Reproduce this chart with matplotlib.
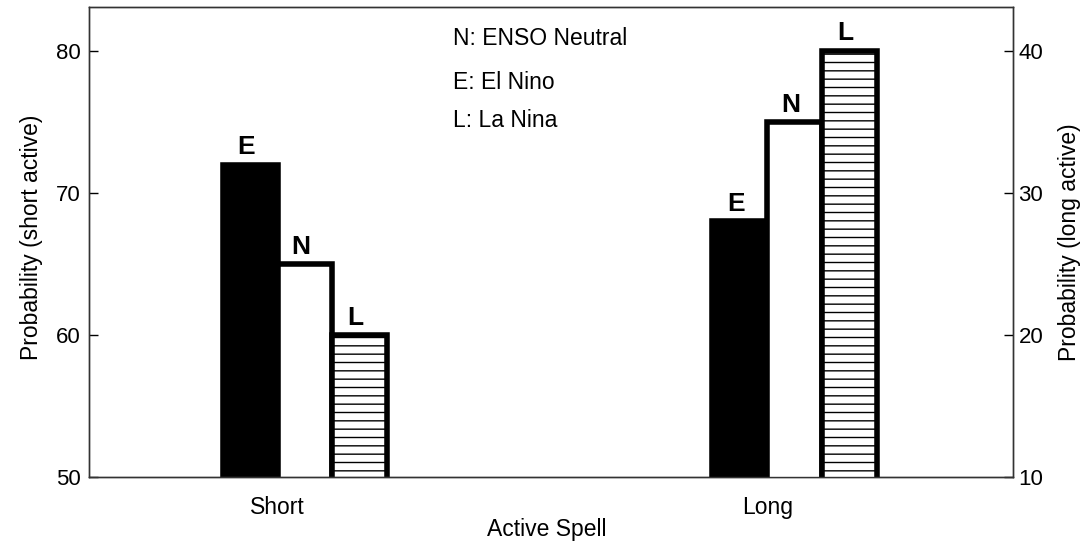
import numpy as np
import matplotlib
matplotlib.use("Agg")
import matplotlib.pyplot as plt

plt.rcParams['font.family'] = ['Liberation Sans', 'DejaVu Sans']
plt.rcParams['hatch.linewidth'] = 1.0

# data
spells = ['Short', 'Long']
phases = ['E', 'N', 'L']
short_prob = [72, 65, 60]   # left axis (short active)
long_prob = [28, 35, 40]    # right axis (long active)
legend_lines = ['N: ENSO Neutral', 'E: El Nino', 'L: La Nina']

# bar styling per phase
face = {'E': 'black', 'N': 'white', 'L': 'white'}
hatch = {'E': None, 'N': None, 'L': '--'}

w = 0.112
offsets = {'E': -0.5 * w, 'N': 0.5 * w, 'L': 1.5 * w}
pos = np.arange(1, len(spells) + 1)

fig = plt.figure(figsize=(10.9, 5.41), dpi=100)
ax = fig.add_axes([0.0817, 0.1183, 0.8477, 0.8690])
ax2 = ax.twinx()

for axis, xc, vals in [(ax, pos[0], short_prob), (ax2, pos[1], long_prob)]:
    for ph, v in zip(phases, vals):
        xb = xc + offsets[ph]
        axis.bar(xb, v, width=w, color=face[ph], edgecolor='black',
                 linewidth=4, hatch=hatch[ph])
        axis.annotate(ph, (xb, v), xytext=(-3, 7.5), textcoords='offset points',
                      ha='center', va='baseline', fontsize=19, fontweight='bold')

ax.set_xlim(0.615, 2.502)
ax.set_ylim(50, 83.1)
ax2.set_ylim(10, 43.1)

ax.set_yticks([50, 60, 70, 80])
ax2.set_yticks([10, 20, 30, 40])
ax.set_xticks(pos)
ax.set_xticklabels(spells)

ax.tick_params(axis='y', direction='in', length=6.5, width=1, labelsize=16, pad=6)
ax.tick_params(axis='x', length=0, labelsize=16.5, pad=14)
ax2.tick_params(axis='y', direction='in', length=6.5, width=1, labelsize=16, pad=4)

for a in (ax, ax2):
    for s in a.spines.values():
        s.set_linewidth(1.0)
        s.set_color('#333333')

ax.set_xlabel('Active Spell', fontsize=16.5)
ax.xaxis.set_label_coords(0.495, -0.087)
ax.set_ylabel('Probability (short active)', fontsize=16.5)
ax.yaxis.set_label_coords(-0.05, 0.51)
ax2.set_ylabel('Probability (long active)', fontsize=16.5)
ax2.yaxis.set_label_coords(1.0487, 0.5)

for txt, yy in zip(legend_lines, [0.919, 0.8255, 0.745]):
    ax2.text(0.394, yy, txt, transform=ax2.transAxes, fontsize=16.5,
             ha='left', va='baseline')

fig.savefig('out.png', dpi=100)
